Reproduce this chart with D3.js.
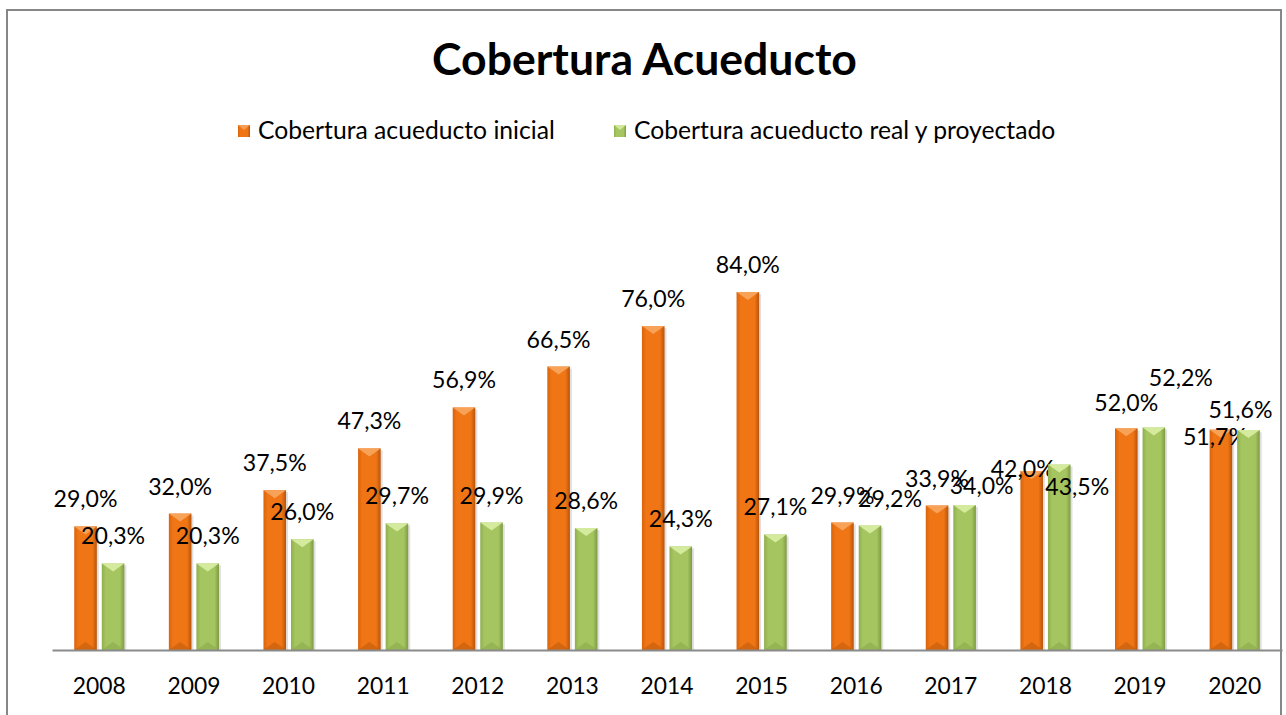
<!DOCTYPE html>
<html><head><meta charset="utf-8">
<script src="https://cdn.jsdelivr.net/npm/d3@7"></script>
<style>body{margin:0;background:#fff} svg{display:block}</style>
</head><body>
<svg id="c" width="1286" height="715"></svg>
<script>
// ---- data ----
const years = ["2008","2009","2010","2011","2012","2013","2014","2015","2016","2017","2018","2019","2020"];
const inicial = [29.0,32.0,37.5,47.3,56.9,66.5,76.0,84.0,29.9,33.9,42.0,52.0,51.7];
const realProy = [20.3,20.3,26.0,29.7,29.9,28.6,24.3,27.1,29.2,34.0,43.5,52.2,51.6];
const seriesNames = ["Cobertura acueducto inicial","Cobertura acueducto real y proyectado"];
const chartTitle = "Cobertura Acueducto";

// ---- layout: manual label nudges seen in the reference ([dx, dy] px) ----
const nudgeInicial = [[0,0],[0,0],[0,0],[0,0],[0,0],[0,0],[0,0],[0,0],[0,0],[0,0],[-9,25],[0,2],[-6,34]];
const nudgeReal    = [[0,0],[0,0],[0,0],[0,0],[0,0],[0,0],[0,0],[0,0],[20,0],[17,8],[18,49],[27,-23],[-8,7]];

const svg = d3.select("#c");
const FONT = "Lato, 'Open Sans', sans-serif";

function fitSize(text, weight, target){
  const t = svg.append("text").attr("font-family",FONT).attr("font-weight",weight).attr("font-size",100).text(text);
  const w = t.node().getComputedTextLength(); t.remove();
  return 100*target/w;
}
const titleSize = fitSize(chartTitle, "bold", 425);
const legendSize = fitSize(seriesNames[0], "normal", 297);
const axisSize = fitSize("2008", "normal", 53);
const labelSize = fitSize("29,0%", "normal", 64);

// gradients
const defs = svg.append("defs");
function grad(id, edge, mid, edge2){
  const g = defs.append("linearGradient").attr("id",id).attr("x1","0").attr("x2","1").attr("y1","0").attr("y2","0");
  g.append("stop").attr("offset","0%").attr("stop-color",edge);
  g.append("stop").attr("offset","18%").attr("stop-color",mid);
  g.append("stop").attr("offset","80%").attr("stop-color",mid);
  g.append("stop").attr("offset","100%").attr("stop-color",edge2);
}
grad("gO","#D9640C","#EF7515","#B9540A");
grad("gG","#8FAE4E","#A5C560","#7F9B43");
const colors = {fill:["url(#gO)","url(#gG)"], top:["#F8A45C","#D6ECA0"], bottom:["#C85F0C","#8FAC50"]};

// border
svg.append("rect").attr("x",7).attr("y",10).attr("width",1274).attr("height",720)
  .attr("fill","none").attr("stroke","#878787").attr("stroke-width",2);

// scales
const x0 = d3.scaleBand().domain(years).range([52,1282]).paddingInner(0.47).paddingOuter(0.235);
const x1 = d3.scaleBand().domain([0,1]).range([0,x0.bandwidth()]).paddingInner(0.18);
const y = d3.scaleLinear().domain([0,90]).range([650,266.4]);

// title
svg.append("text").attr("x",644.5).attr("y",75).attr("text-anchor","middle")
  .attr("font-family",FONT).attr("font-weight","bold").attr("font-size",titleSize).attr("fill","#000").text(chartTitle);

// legend
const legendX = [238, 614];
seriesNames.forEach((n,i)=>{
  const g = svg.append("g").attr("transform",`translate(${legendX[i]},125)`);
  g.append("rect").attr("width",12).attr("height",12).attr("fill",colors.fill[i]);
  g.append("path").attr("d","M0,0 L12,0 L6,5 Z").attr("fill",colors.top[i]).attr("opacity",0.9);
  g.append("text").attr("x",20).attr("y",14).attr("font-family",FONT).attr("font-size",legendSize).attr("fill","#000").text(n);
});

// bars
const series = [inicial, realProy];
const nudges = [nudgeInicial, nudgeReal];
const fmt = v => d3.format(".1f")(v).replace(".",",") + "%";
const bw = x1.bandwidth();
series.forEach((vals,si)=>{
  const g = svg.append("g");
  const bars = g.selectAll("g.bar").data(vals).join("g").attr("class","bar")
    .attr("transform",(d,i)=>`translate(${x0(years[i])+x1(si)},0)`);
  bars.append("rect").attr("x",2).attr("y",d=>y(d)+2).attr("width",bw).attr("height",d=>650-y(d)-2)
    .attr("fill","#000").attr("opacity",0.12);
  bars.append("rect").attr("x",0).attr("y",d=>y(d)).attr("width",bw).attr("height",d=>650-y(d))
    .attr("fill",colors.fill[si]);
  bars.append("path").attr("d",d=>`M0,${y(d)} L${bw},${y(d)} L${bw/2},${y(d)+8} Z`).attr("fill",colors.top[si]).attr("opacity",0.95);
  bars.append("path").attr("d",`M0,650 L${bw},650 L${bw/2},642 Z`).attr("fill",colors.bottom[si]).attr("opacity",0.7);
  // labels
  g.selectAll("text.lbl").data(vals).join("text").attr("class","lbl")
    .attr("x",(d,i)=>x0(years[i])+x1(si)+bw/2+nudges[si][i][0])
    .attr("y",(d,i)=>y(d)-19+nudges[si][i][1])
    .attr("text-anchor","middle").attr("font-family",FONT).attr("font-size",labelSize).attr("fill","#000")
    .text(d=>fmt(d));
});

// x axis
const ax = svg.append("g").attr("transform","translate(0,650)").call(d3.axisBottom(x0).tickSize(0).tickSizeOuter(0));
ax.select(".domain").attr("stroke","#8a8a8a").attr("stroke-width",2);
ax.selectAll(".tick text").attr("y",44).attr("dy",0).attr("font-family",FONT).attr("font-size",axisSize).attr("fill","#000");
</script>
</body></html>
